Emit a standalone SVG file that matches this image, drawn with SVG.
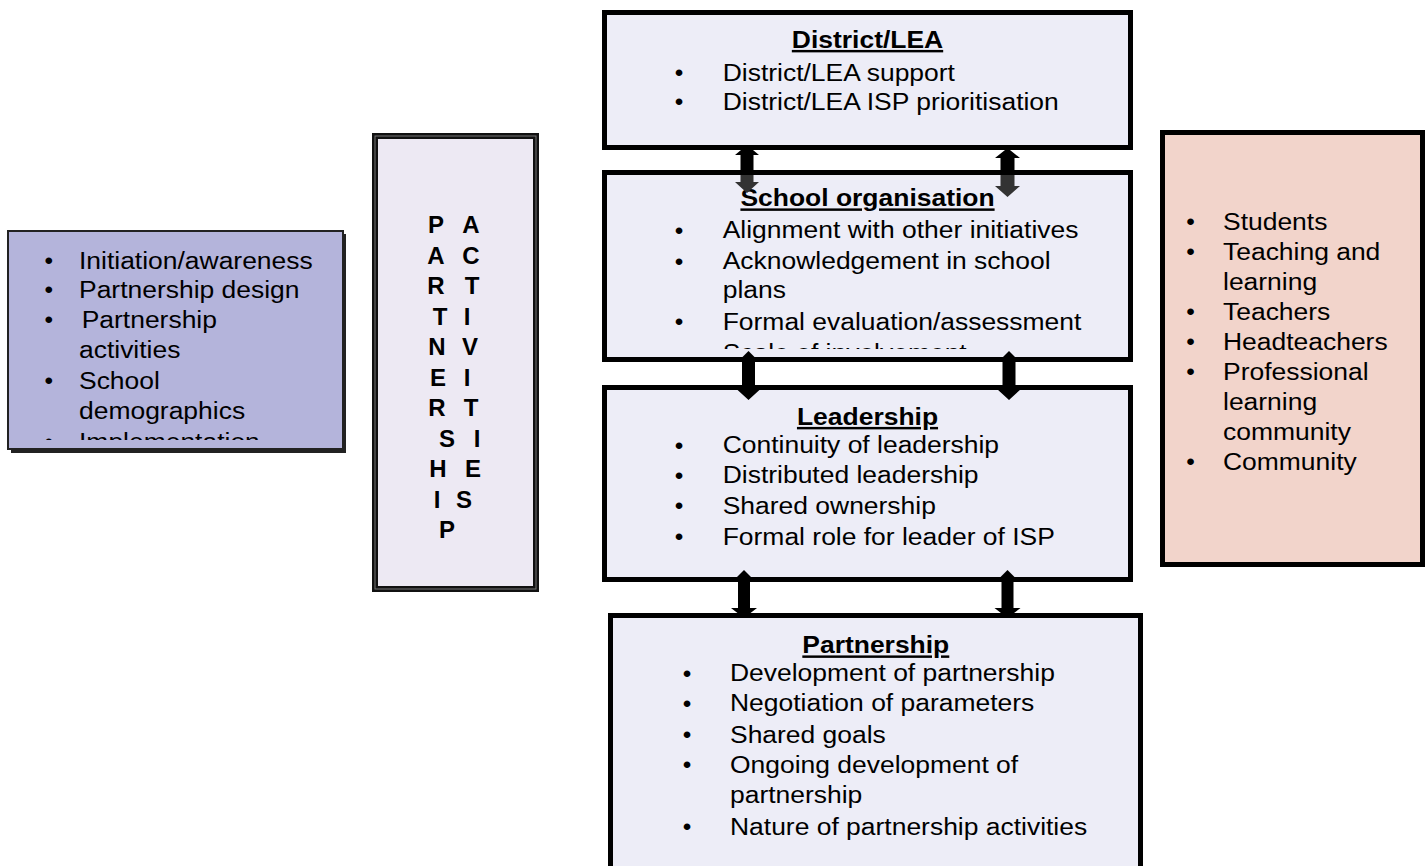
<svg xmlns="http://www.w3.org/2000/svg" width="1425" height="866" viewBox="0 0 1425 866">
  <style>
    text { font-family: "Liberation Sans", Arial, sans-serif; font-size: 24.5px; fill: #000; }
    .title { font-weight: bold; text-decoration: underline; text-anchor: middle; }
    .bul { text-anchor: middle; }
    .vl { font-weight: bold; font-size: 24px; text-anchor: middle; }
    .cbox { fill: #EDEDF7; stroke: #000; stroke-width: 5; }
    .arrow { fill: #000; }
  </style>
  <defs>
    <linearGradient id="gradA" gradientUnits="userSpaceOnUse" x1="0" y1="0" x2="0" y2="866">
      <stop offset="0" stop-color="#000"/>
      <stop offset="0.2021" stop-color="#000"/>
      <stop offset="0.2021" stop-color="#333"/>
      <stop offset="1" stop-color="#333"/>
    </linearGradient>
    <clipPath id="clipLeft"><rect x="8" y="232" width="335" height="208"/></clipPath>
    <clipPath id="clipSchool"><rect x="606" y="176" width="524" height="173"/></clipPath>
  </defs>

  <!-- left list box -->
  <g id="inputs">
    <rect x="11" y="234" width="335" height="219" fill="#222"/>
    <rect x="8" y="231" width="335" height="218" fill="#B4B4DB" stroke="#222" stroke-width="2"/>
    <g clip-path="url(#clipLeft)">
      <text class="bul" x="48.7" y="269">•</text>
      <text class="bul" x="48.7" y="298">•</text>
      <text class="bul" x="48.7" y="328">•</text>
      <text class="bul" x="48.7" y="389">•</text>
      <text class="bul" x="48.7" y="450">•</text>
      <g transform="translate(79,0) scale(1.08,1)">
        <text x="0" y="269">Initiation/awareness</text>
        <text x="0" y="298">Partnership design</text>
        <text x="2.5" y="328">Partnership</text>
        <text x="0" y="358">activities</text>
        <text x="0" y="389">School</text>
        <text x="0" y="419">demographics</text>
        <text x="0" y="450">Implementation</text>
      </g>
    </g>
  </g>

  <!-- vertical caption box -->
  <g id="partnership-activities">
    <rect x="375" y="136" width="161" height="453" fill="#EDE9F3" stroke="#111" stroke-width="6"/>
    <rect x="375" y="136" width="161" height="453" fill="none" stroke="#777" stroke-width="1"/>
    <text class="vl" x="436" y="233">P</text>
    <text class="vl" x="436" y="263.5">A</text>
    <text class="vl" x="436" y="294">R</text>
    <text class="vl" x="440" y="324.5">T</text>
    <text class="vl" x="437" y="355">N</text>
    <text class="vl" x="438" y="385.5">E</text>
    <text class="vl" x="437" y="416">R</text>
    <text class="vl" x="447" y="446.5">S</text>
    <text class="vl" x="438" y="477">H</text>
    <text class="vl" x="437" y="507.5">I</text>
    <text class="vl" x="447" y="538">P</text>
    <text class="vl" x="471" y="233">A</text>
    <text class="vl" x="471" y="263.5">C</text>
    <text class="vl" x="472" y="294">T</text>
    <text class="vl" x="467" y="324.5">I</text>
    <text class="vl" x="470" y="355">V</text>
    <text class="vl" x="467" y="385.5">I</text>
    <text class="vl" x="471" y="416">T</text>
    <text class="vl" x="477" y="446.5">I</text>
    <text class="vl" x="473" y="477">E</text>
    <text class="vl" x="464" y="507.5">S</text>
  </g>

  <!-- District/LEA -->
  <g id="district">
    <rect class="cbox" x="604.5" y="12.5" width="526" height="135"/>
    <g transform="translate(867.5,0) scale(1.08,1)"><text class="title" x="0" y="48">District/LEA</text></g>
    <text class="bul" x="679" y="81">•</text>
    <text class="bul" x="679" y="110">•</text>
    <g transform="translate(722.7,0) scale(1.08,1)">
      <text x="0" y="81">District/LEA support</text>
      <text x="0" y="110">District/LEA ISP prioritisation</text>
    </g>
  </g>

  <!-- School organisation -->
  <g id="school">
    <rect class="cbox" x="604.5" y="172.5" width="526" height="187"/>
    <g transform="translate(867.5,0) scale(1.08,1)"><text class="title" x="0" y="206.5">School organisation</text></g>
    <g clip-path="url(#clipSchool)">
      <text class="bul" x="679" y="238.5">•</text>
      <text class="bul" x="679" y="269.5">•</text>
      <text class="bul" x="679" y="330">•</text>
      <text class="bul" x="679" y="361">•</text>
      <g transform="translate(722.7,0) scale(1.08,1)">
        <text x="0" y="238.5">Alignment with other initiatives</text>
        <text x="0" y="269.5">Acknowledgement in school</text>
        <text x="0" y="298.5">plans</text>
        <text x="0" y="330">Formal evaluation/assessment</text>
        <text x="0" y="361">Scale of involvement</text>
      </g>
    </g>
  </g>

  <!-- Leadership -->
  <g id="leadership">
    <rect class="cbox" x="604.5" y="387.5" width="526" height="192"/>
    <g transform="translate(867.5,0) scale(1.08,1)"><text class="title" x="0" y="425">Leadership</text></g>
    <text class="bul" x="679" y="453.5">•</text>
    <text class="bul" x="679" y="483.5">•</text>
    <text class="bul" x="679" y="514">•</text>
    <text class="bul" x="679" y="545">•</text>
    <g transform="translate(722.7,0) scale(1.08,1)">
      <text x="0" y="453.5">Continuity of leadership</text>
      <text x="0" y="483.5">Distributed leadership</text>
      <text x="0" y="514">Shared ownership</text>
      <text x="0" y="545">Formal role for leader of ISP</text>
    </g>
  </g>

  <!-- Partnership -->
  <g id="partnership">
    <rect class="cbox" x="610.5" y="615.5" width="530" height="253"/>
    <g transform="translate(875.8,0) scale(1.08,1)"><text class="title" x="0" y="653.5">Partnership</text></g>
    <text class="bul" x="687" y="681.5">•</text>
    <text class="bul" x="687" y="711.5">•</text>
    <text class="bul" x="687" y="743">•</text>
    <text class="bul" x="687" y="773">•</text>
    <text class="bul" x="687" y="835">•</text>
    <g transform="translate(730,0) scale(1.08,1)">
      <text x="0" y="681.5">Development of partnership</text>
      <text x="0" y="711.5">Negotiation of parameters</text>
      <text x="0" y="743">Shared goals</text>
      <text x="0" y="773">Ongoing development of</text>
      <text x="0" y="803.5">partnership</text>
      <text x="0" y="835">Nature of partnership activities</text>
    </g>
  </g>

  <!-- right list box -->
  <g id="outcomes">
    <rect x="1162.5" y="132.5" width="260" height="432" fill="#F2D4CB" stroke="#000" stroke-width="5"/>
    <text class="bul" x="1190.5" y="230">•</text>
    <text class="bul" x="1190.5" y="260">•</text>
    <text class="bul" x="1190.5" y="320">•</text>
    <text class="bul" x="1190.5" y="350">•</text>
    <text class="bul" x="1190.5" y="380">•</text>
    <text class="bul" x="1190.5" y="470">•</text>
    <g transform="translate(1223,0) scale(1.08,1)">
      <text x="0" y="230">Students</text>
      <text x="0" y="260">Teaching and</text>
      <text x="0" y="290">learning</text>
      <text x="0" y="320">Teachers</text>
      <text x="0" y="350">Headteachers</text>
      <text x="0" y="380">Professional</text>
      <text x="0" y="410">learning</text>
      <text x="0" y="440">community</text>
      <text x="0" y="470">Community</text>
    </g>
  </g>

  <!-- two-way arrows between the stacked boxes -->
  <g id="connectors">
    <polygon fill="url(#gradA)" points="747,145 759,155 753.5,155 753.5,182 759,182 747,193 735,182 740.5,182 740.5,155 735,155"/>
    <polygon fill="url(#gradA)" points="1007.5,148 1020,158 1014.5,158 1014.5,186 1020,186 1007.5,197 995,186 1000.5,186 1000.5,158 995,158"/>
    <polygon class="arrow" points="748.5,351 756.5,359 755,359 755,389 760.5,389 748.5,400 736.5,389 742,389 742,359 740.5,359"/>
    <polygon class="arrow" points="1009,351 1017,359 1015.5,359 1015.5,389 1021,389 1009,400 997,389 1002.5,389 1002.5,359 1001,359"/>
    <polygon class="arrow" points="744,570 752,578 750,578 750,608 757,608 744,618 731,608 738,608 738,578 736,578"/>
    <polygon class="arrow" points="1007.5,570 1015.5,578 1013.5,578 1013.5,608 1020.5,608 1007.5,618 994.5,608 1001.5,608 1001.5,578 999.5,578"/>
  </g>
</svg>
